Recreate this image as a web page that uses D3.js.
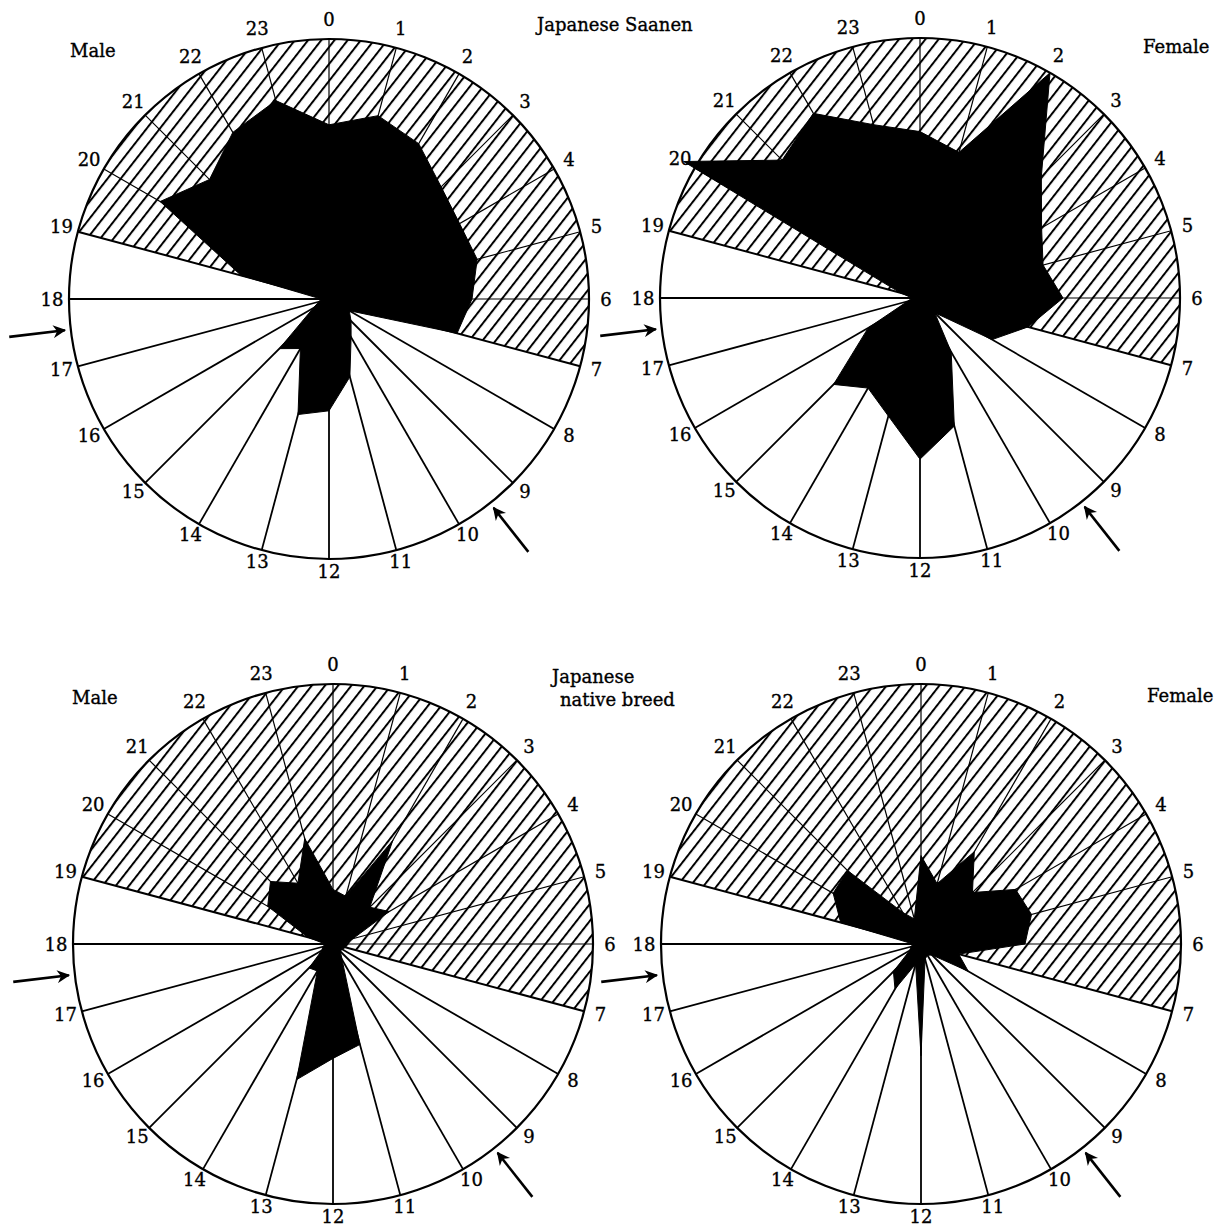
<!DOCTYPE html>
<html>
<head>
<meta charset="utf-8">
<script src="https://cdn.jsdelivr.net/npm/d3@7"></script>
<style>
  body { margin: 0; background: #fff; }
  svg { display: block; }
  text { font-family: "DejaVu Serif", "Liberation Serif", serif; fill: #000; stroke: #000; stroke-width: 0.35; }
</style>
</head>
<body>
<svg id="chart" width="1221" height="1228"></svg>
<script>
// hour labels round each dial
const hourLabels = ['0','1','2','3','4','5','6','7','8','9','10','11',
  '12','13','14','15','16','17','18','19','20','21','22','23']

// share of each hour spent active (1 = full dial radius)
const saanenMale   = [0.67,0.73,0.69,0.61,0.58,0.59,0.55,0.51,0.09,0.12,0.17,0.31,
                      0.43,0.46,0.22,0.27,0.07,0.04,0.03,0.35,0.75,0.65,0.74,0.79]
const saanenFemale = [0.64,0.58,1.00,0.66,0.54,0.49,0.55,0.43,0.32,0.08,0.24,0.51,
                      0.62,0.47,0.40,0.47,0.23,0.05,0.03,0.08,1.05,0.75,0.82,0.69]
const nativeMale   = [0.21,0.19,0.46,0.20,0.25,0.08,0.05,0.05,0.04,0.04,0.07,0.40,
                      0.44,0.54,0.12,0.13,0.05,0.04,0.03,0.10,0.29,0.34,0.27,0.42]
const nativeFemale = [0.34,0.24,0.41,0.28,0.42,0.44,0.40,0.15,0.21,0.06,0.05,0.06,
                      0.43,0.08,0.20,0.15,0.05,0.04,0.03,0.32,0.39,0.40,0.14,0.10]

// dark period (hatched) and the two marked times (arrows)
const nightStart = 19
const nightEnd = 7
const arrowHours = [9.45, 17.55]

const svg = d3.select('#chart')
const R = 260

// hatch pattern
const defs = svg.append('defs')
defs.append('pattern')
  .attr('id', 'hatch')
  .attr('patternUnits', 'userSpaceOnUse')
  .attr('width', 10.4)
  .attr('height', 10.4)
  .attr('patternTransform', 'rotate(38)')
  .append('line')
  .attr('x1', 1).attr('y1', -2)
  .attr('x2', 1).attr('y2', 13)
  .attr('stroke', '#000')
  .attr('stroke-width', 2)

defs.append('marker')
  .attr('id', 'head')
  .attr('viewBox', '0 0 10 10')
  .attr('refX', 9).attr('refY', 5)
  .attr('markerWidth', 7).attr('markerHeight', 5)
  .attr('markerUnits', 'strokeWidth')
  .attr('orient', 'auto')
  .append('path')
  .attr('d', 'M0,0 L10,5 L0,10 L3,5 Z')
  .attr('fill', '#000')

const angle = d3.scaleLinear().domain([0, 24]).range([0, 2 * Math.PI])
const radius = d3.scaleLinear().domain([0, 1]).range([0, R])

const panels = [
  { cx: 329, cy: 299, values: saanenMale },
  { cx: 920, cy: 298, values: saanenFemale },
  { cx: 333, cy: 944, values: nativeMale },
  { cx: 921, cy: 944, values: nativeFemale }
]

function isNight(h) {
  return h >= nightStart || h <= nightEnd
}

panels.forEach(p => {
  const g = svg.append('g').attr('transform', `translate(${p.cx},${p.cy})`)

  // night sector
  g.append('path')
    .attr('d', d3.arc()({
      innerRadius: 0, outerRadius: R,
      startAngle: angle(nightStart), endAngle: angle(24 + nightEnd)
    }))
    .attr('fill', 'url(#hatch)')

  // spokes
  g.selectAll('line.spoke')
    .data(hourLabels)
    .join('line')
    .attr('class', 'spoke')
    .attr('x1', 0).attr('y1', 0)
    .attr('x2', (d, i) => R * Math.sin(angle(i)))
    .attr('y2', (d, i) => -R * Math.cos(angle(i)))
    .attr('stroke', '#000')
    .attr('stroke-width', (d, i) => (i === nightStart || i === nightEnd) ? 2 : (isNight(i) ? 1.2 : 1.8))

  // activity polygon
  const line = d3.lineRadial()
    .angle((d, i) => angle(i))
    .radius(d => radius(d))
    .curve(d3.curveLinearClosed)

  g.append('path')
    .attr('d', line(p.values))
    .attr('fill', '#000')
    .attr('stroke', '#000')
    .attr('stroke-width', 1)

  // dial outline
  g.append('circle')
    .attr('r', R)
    .attr('fill', 'none')
    .attr('stroke', '#000')
    .attr('stroke-width', 2.2)

  // hour labels
  g.selectAll('text.hour')
    .data(hourLabels)
    .join('text')
    .attr('class', 'hour')
    .attr('x', (d, i) => (R + 17) * Math.sin(angle(i)))
    .attr('y', (d, i) => {
      const c = Math.cos(angle(i))
      return -(c > 0 ? R + 20 : R + 12) * c
    })
    .attr('text-anchor', 'middle')
    .attr('dominant-baseline', 'central')
    .attr('font-size', 18)
    .text(d => d)

  // arrows
  g.selectAll('line.arrow')
    .data(arrowHours)
    .join('line')
    .attr('class', 'arrow')
    .attr('x1', d => (R + 62) * Math.sin(angle(d)))
    .attr('y1', d => -(R + 62) * Math.cos(angle(d)))
    .attr('x2', d => (R + 6) * Math.sin(angle(d)))
    .attr('y2', d => -(R + 6) * Math.cos(angle(d)))
    .attr('stroke', '#000')
    .attr('stroke-width', 2.6)
    .attr('marker-end', 'url(#head)')
})

// titles
const titles = [
  { x: 70, y: 57, text: 'Male' },
  { x: 537, y: 31, text: 'Japanese Saanen' },
  { x: 1143, y: 53, text: 'Female' },
  { x: 72, y: 704, text: 'Male' },
  { x: 552, y: 683, text: 'Japanese' },
  { x: 560, y: 706, text: 'native breed' },
  { x: 1147, y: 702, text: 'Female' }
]
svg.selectAll('text.title')
  .data(titles)
  .join('text')
  .attr('class', 'title')
  .attr('x', d => d.x)
  .attr('y', d => d.y)
  .attr('font-size', 18)
  .text(d => d.text)
</script>
</body>
</html>
